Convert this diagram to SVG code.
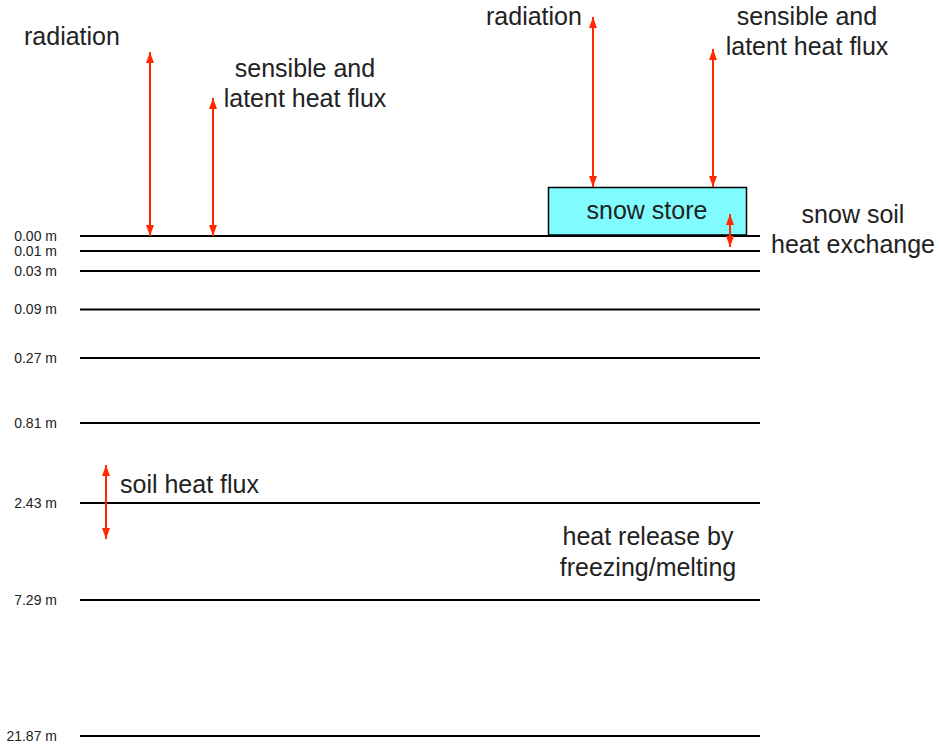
<svg xmlns="http://www.w3.org/2000/svg" width="939" height="744" viewBox="0 0 939 744">
<style>
.lbl{font-family:"Liberation Sans",Arial,sans-serif;font-size:25px;fill:#222;}
.dep{font-family:"Liberation Sans",Arial,sans-serif;font-size:14px;fill:#222;text-anchor:end;}
.lay{stroke:#000;stroke-width:2;fill:none;}
.arr{stroke:#ff2a00;stroke-width:2;fill:none;marker-start:url(#ah);marker-end:url(#ah);}
</style>
<defs>
<marker id="ah" markerUnits="userSpaceOnUse" markerWidth="12" markerHeight="12" viewBox="0 0 12 12" refX="11" refY="6" orient="auto-start-reverse">
<path d="M0,2 L11,6 L0,10 Z" fill="#ff2a00"/>
</marker>
</defs>
<rect width="939" height="744" fill="#fff"/>
<g id="layers">
<line class="lay" x1="80" y1="236" x2="760" y2="236"/>
<line class="lay" x1="80" y1="251" x2="760" y2="251"/>
<line class="lay" x1="80" y1="271" x2="760" y2="271"/>
<line class="lay" x1="80" y1="309.5" x2="760" y2="309.5"/>
<line class="lay" x1="80" y1="358" x2="760" y2="358"/>
<line class="lay" x1="80" y1="423" x2="760" y2="423"/>
<line class="lay" x1="80" y1="503" x2="760" y2="503"/>
<line class="lay" x1="80" y1="600" x2="760" y2="600"/>
<line class="lay" x1="80" y1="736" x2="760" y2="736"/>
</g>
<g id="depths">
<text class="dep" x="57" y="240.5">0.00 m</text>
<text class="dep" x="57" y="255.5">0.01 m</text>
<text class="dep" x="57" y="275.5">0.03 m</text>
<text class="dep" x="57" y="313.5">0.09 m</text>
<text class="dep" x="57" y="362.5">0.27 m</text>
<text class="dep" x="57" y="427.5">0.81 m</text>
<text class="dep" x="57" y="507.5">2.43 m</text>
<text class="dep" x="57" y="604.5">7.29 m</text>
<text class="dep" x="57" y="740.5">21.87 m</text>
</g>
<g id="snow-store">
<rect x="548.5" y="187.5" width="198" height="47.5" fill="#80fcff" stroke="#000" stroke-width="1.5"/>
<text class="lbl" x="647" y="219" text-anchor="middle">snow store</text>
</g>
<g id="connectors">
<line class="arr" x1="150" y1="52" x2="150" y2="236"/>
<line class="arr" x1="213" y1="98" x2="213" y2="236"/>
<line class="arr" x1="593" y1="17" x2="593" y2="187"/>
<line class="arr" x1="713" y1="49" x2="713" y2="187"/>
<line class="arr" x1="730" y1="214" x2="730" y2="247"/>
<line class="arr" x1="106" y1="465" x2="106" y2="539"/>
</g>
<g id="labels">
<text class="lbl" x="24" y="45">radiation</text>
<text class="lbl" x="305" y="77" text-anchor="middle">sensible and</text>
<text class="lbl" x="305" y="107" text-anchor="middle">latent heat flux</text>
<text class="lbl" x="486" y="25">radiation</text>
<text class="lbl" x="807" y="25" text-anchor="middle">sensible and</text>
<text class="lbl" x="807" y="55" text-anchor="middle">latent heat flux</text>
<text class="lbl" x="853" y="223" text-anchor="middle">snow soil</text>
<text class="lbl" x="853" y="253" text-anchor="middle">heat exchange</text>
<text class="lbl" x="120" y="493">soil heat flux</text>
<text class="lbl" x="648" y="545" text-anchor="middle">heat release by</text>
<text class="lbl" x="648" y="576" text-anchor="middle">freezing/melting</text>
</g>
</svg>
